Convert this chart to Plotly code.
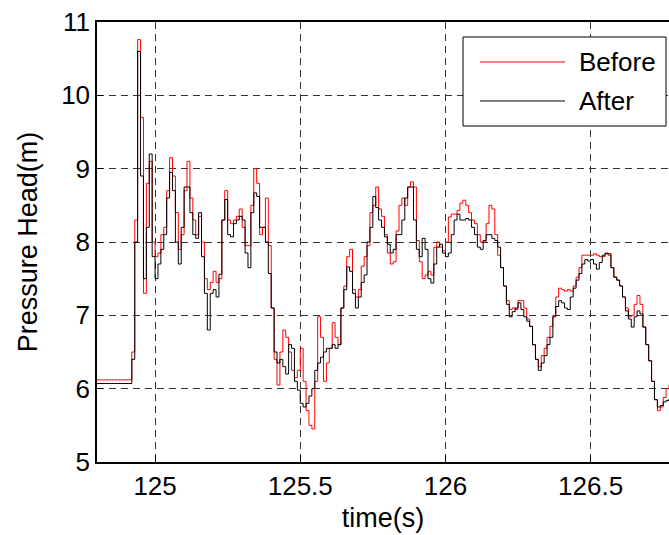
import plotly.graph_objects as go

t_start = 124.80
t_step = 0.01

before = [
    6.12, 6.12, 6.12, 6.12, 6.12, 6.12, 6.12, 6.12, 6.12, 6.12, 6.12, 6.12,
    6.5, 8.3, 10.76, 9.7, 7.3, 8.8, 9.1, 8.0,
    7.8, 7.85, 8.1, 8.2, 8.7, 9.15, 8.9, 8.4, 7.9, 8.1,
    8.7, 9.1, 8.6, 8.3, 8.1, 8.35, 8.0, 7.5, 7.35, 7.45,
    7.6, 7.45, 7.5, 8.3, 8.7, 8.3, 8.25, 8.3, 8.35, 8.45,
    8.2, 7.95, 7.95, 8.5, 9.0, 8.8, 8.1, 8.2, 8.6, 7.95,
    7.1, 6.4, 6.05, 6.5, 6.8, 6.7, 6.5, 6.25, 6.15, 6.25,
    6.55, 6.1, 5.7, 5.5, 5.45, 6.1, 6.98, 6.7, 6.1, 6.35,
    6.55, 6.9, 6.7, 6.6, 7.1, 7.4, 7.8, 7.9, 7.35, 7.25,
    7.35, 7.67, 7.8, 7.95, 8.4, 8.5, 8.75, 8.45, 8.35, 8.1,
    7.85, 7.7, 7.73, 8.15, 8.5, 8.6, 8.5, 8.75, 8.82, 8.75,
    8.02, 7.73, 7.5, 7.55, 7.6, 7.55, 7.93, 8.0, 7.93, 7.88,
    8.0, 8.34, 8.38, 8.38, 8.43, 8.53, 8.57, 8.5, 8.4, 8.3,
    8.25, 8.1, 8.0, 8.0, 8.25, 8.5, 8.45, 8.1, 7.82, 7.65,
    7.4, 7.2, 7.08, 7.1, 7.08, 7.2, 7.2, 7.1, 6.95, 6.85,
    6.6, 6.4, 6.3, 6.45, 6.55, 6.7, 6.85, 7.0, 7.25, 7.37,
    7.35, 7.33, 7.35, 7.33, 7.4, 7.52, 7.65, 7.82, 7.82, 7.82,
    7.82, 7.84, 7.82, 7.8, 7.8, 7.85, 7.82, 7.65, 7.52, 7.48,
    7.4, 7.25, 7.1, 6.98, 7.0, 7.15, 7.27, 7.15, 6.84, 6.6,
    6.38, 6.1, 5.85, 5.7, 5.75, 5.88, 6.0, 6.05,
]

after = [
    6.07, 6.07, 6.07, 6.07, 6.07, 6.07, 6.07, 6.07, 6.07, 6.07, 6.07, 6.07,
    6.4, 8.0, 10.6, 8.9, 7.5, 8.2, 9.2, 7.8,
    7.5, 7.7, 7.9, 8.1, 8.6, 8.95, 8.7, 8.0, 7.7, 8.2,
    8.75, 8.75, 8.4, 8.1, 8.05, 8.4, 7.8, 7.3, 6.8, 7.3,
    7.35, 7.25, 7.56, 8.3, 8.58, 8.1, 8.07, 8.25, 8.3, 8.35,
    8.3, 7.85, 7.65, 8.4, 8.67, 8.62, 8.2, 8.2, 8.0, 7.57,
    7.1, 6.5, 6.35, 6.4, 6.3, 6.2, 6.6, 6.55, 6.1, 5.98,
    5.8, 5.75, 5.8, 5.9, 6.0, 6.25, 6.35, 6.43, 6.5, 6.55,
    6.55, 6.6, 6.55, 6.6, 7.1, 7.35, 7.66, 7.6, 7.3, 7.1,
    7.25, 7.45, 7.55, 8.0, 8.2, 8.62, 8.47, 8.3, 8.2, 8.07,
    7.97, 7.85, 7.9, 8.1, 8.1, 8.3, 8.6, 8.75, 8.75, 8.3,
    7.9, 7.8, 8.05, 7.9, 7.5, 7.44, 7.7, 7.93, 7.97, 7.85,
    7.8, 7.85, 8.1, 8.3, 8.38, 8.3, 8.3, 8.32, 8.3, 8.2,
    8.1, 7.93, 7.9, 8.02, 8.1, 8.1, 8.05, 8.02, 7.93, 7.65,
    7.4, 7.15, 6.98, 7.05, 7.1, 7.17, 7.08, 6.98, 6.92, 6.85,
    6.6, 6.4, 6.25, 6.35, 6.45, 6.6, 6.7, 6.98, 7.12, 7.2,
    7.17, 7.1, 7.08, 7.25, 7.37, 7.48, 7.57, 7.7, 7.76, 7.74,
    7.76, 7.7, 7.63, 7.72, 7.82, 7.84, 7.84, 7.65, 7.52, 7.48,
    7.4, 7.25, 7.06, 6.95, 6.84, 6.98, 7.06, 7.02, 6.84, 6.6,
    6.38, 6.1, 5.85, 5.75, 5.77, 5.82, 5.84, 5.86,
]

time_before = [round(t_start + t_step * i, 2) for i in range(len(before))]
time_after = [round(t_start + t_step * i, 2) for i in range(len(after))]

x_tick_vals = [125, 125.5, 126, 126.5]
x_tick_text = ["125", "125.5", "126", "126.5"]
y_tick_vals = [5, 6, 7, 8, 9, 10, 11]
y_tick_text = ["5", "6", "7", "8", "9", "10", "11"]
series_names = ["Before", "After"]

FONT = "Liberation Sans, Arial, Helvetica, sans-serif"

fig = go.Figure()
fig.add_trace(go.Scatter(x=time_before, y=before, mode="lines", name=series_names[0],
                         line=dict(color="#ff0000", width=1, shape="hv"), showlegend=False))
fig.add_trace(go.Scatter(x=time_after, y=after, mode="lines", name=series_names[1],
                         line=dict(color="#000000", width=1, shape="hv"), showlegend=False))

# legend drawn manually (MATLAB style long line samples)
fig.add_shape(type="rect", xref="paper", yref="paper", x0=0.6399, x1=0.9948, y0=0.7636, y1=0.9659,
              line=dict(color="black", width=1), fillcolor="white", layer="above")
fig.add_shape(type="line", xref="paper", yref="paper", x0=0.6696, x1=0.8182, y0=0.9091, y1=0.9091,
              line=dict(color="#ff0000", width=1), layer="above")
fig.add_shape(type="line", xref="paper", yref="paper", x0=0.6696, x1=0.8182, y0=0.8205, y1=0.8205,
              line=dict(color="#000000", width=1), layer="above")
fig.add_annotation(xref="paper", yref="paper", x=0.8392, y=0.9091, text=series_names[0],
                   showarrow=False, xanchor="left", yanchor="middle",
                   font=dict(family=FONT, size=26, color="black"))
fig.add_annotation(xref="paper", yref="paper", x=0.8392, y=0.8205, text=series_names[1],
                   showarrow=False, xanchor="left", yanchor="middle",
                   font=dict(family=FONT, size=26, color="black"))

axis_common = dict(
    showline=True, linecolor="black", linewidth=1.5,
    ticks="inside", ticklen=6, tickcolor="black", tickwidth=1,
    showgrid=True, gridcolor="#333333", gridwidth=1, griddash="7px,5px",
    zeroline=False,
    tickfont=dict(family=FONT, size=26, color="black"),
)

fig.update_xaxes(range=[124.8, 126.77], tickvals=x_tick_vals, ticktext=x_tick_text,
                 mirror=True, title=dict(text="time(s)", font=dict(family=FONT, size=27, color="black"),
                                         standoff=8),
                 **axis_common)
fig.update_yaxes(range=[5, 11], tickvals=y_tick_vals, ticktext=y_tick_text,
                 mirror=False, title=dict(text="Pressure Head(m)", font=dict(family=FONT, size=27, color="black"),
                                          standoff=16),
                 **axis_common)

fig.update_layout(
    width=669, height=535,
    margin=dict(l=97, r=0, t=22, b=73),
    paper_bgcolor="white", plot_bgcolor="white",
    font=dict(family=FONT, size=26, color="black"),
)

fig.write_html("out.html", config={"displayModeBar": False},
               post_script="document.body.style.margin='0px';document.body.style.padding='0px';document.body.style.overflow='hidden';")
